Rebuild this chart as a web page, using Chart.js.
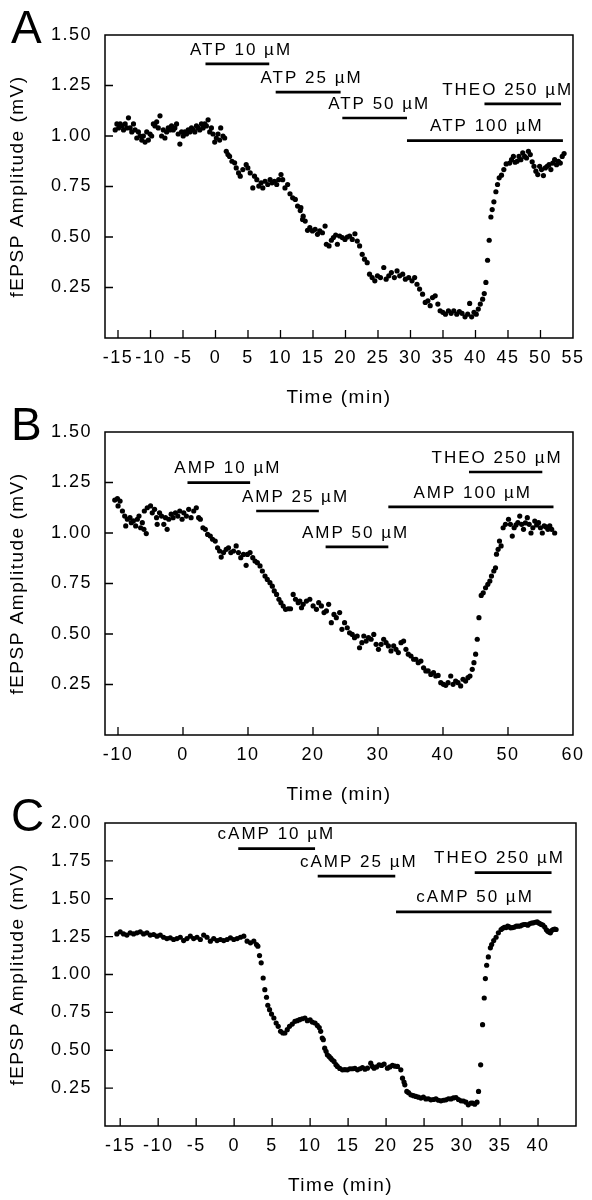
<!DOCTYPE html>
<html>
<head>
<meta charset="utf-8">
<script src="https://cdn.jsdelivr.net/npm/chart.js@4.4.1/dist/chart.umd.min.js"></script>
<style>
  html, body { margin: 0; padding: 0; background: #fff; }
  #wrap { position: relative; width: 592px; height: 1200px; overflow: hidden; background: #fff; }
  canvas { position: absolute; left: 0; }
</style>
</head>
<body>
<div id="wrap">
  <canvas id="cA" width="592" height="410" style="top:2px"></canvas>
  <canvas id="cB" width="592" height="410" style="top:399px"></canvas>
  <canvas id="cC" width="592" height="410" style="top:790px"></canvas>
</div>
<script>
// ---------------- DATA ----------------
// Panel A: [time (min), fEPSP amplitude (mV)]
const seriesA = [
[-15.43,1.03],[-15.17,1.06],[-14.9,1.04],[-14.66,1.06],[-14.41,1.05],[-14.15,1.03],[-13.9,1.06],[-13.64,1.04],[-13.39,1.09],[-13.13,1.04],
[-12.88,1.02],[-12.62,1.06],[-12.37,1.03],[-12.11,0.99],[-11.86,1.02],[-11.6,1.00],[-11.35,0.98],[-11.1,1.00],[-10.84,0.97],[-10.58,1.02],
[-10.33,0.98],[-10.07,1.01],[-9.82,1.00],[-9.56,1.06],[-9.31,1.05],[-9.05,1.07],[-8.8,1.04],[-8.54,1.10],[-8.29,1.00],[-8.03,1.03],
[-7.78,0.99],[-7.52,1.02],[-7.27,1.04],[-7.01,1.03],[-6.76,1.05],[-6.5,1.03],[-6.25,1.04],[-5.99,1.06],[-5.74,1.01],[-5.48,0.96],
[-5.22,1.02],[-4.97,1.00],[-4.71,1.02],[-4.46,1.01],[-4.2,1.03],[-3.95,1.02],[-3.69,1.04],[-3.44,1.03],[-3.18,1.02],[-2.93,1.05],
[-2.67,1.04],[-2.42,1.03],[-2.16,1.06],[-1.91,1.04],[-1.65,1.06],[-1.4,1.05],[-1.14,1.08],[-0.89,1.02],[-0.63,1.04],[-0.38,1.01],
[-0.12,0.97],[0.13,0.99],[0.39,1.01],[0.64,0.98],[0.8,1.04],[1.15,1.00],[1.41,0.99],
[1.66,0.924],[1.92,0.908],[2.17,0.899],[2.53,0.875],[2.94,0.867],[3.19,0.842],[3.55,0.817],[3.81,0.801],[4.21,0.834],[4.72,0.858],
[4.98,0.842],[5.34,0.817],[5.74,0.743],[6.0,0.801],[6.36,0.784],[6.66,0.752],[7.02,0.768],[7.28,0.743],[7.63,0.776],[8.04,0.76],
[8.4,0.784],[8.7,0.768],[9.06,0.776],[9.42,0.76],[9.72,0.784],[10.08,0.809],[10.34,0.784],[10.69,0.743],[11.1,0.76],[11.46,0.714],
[11.87,0.694],[12.28,0.686],[12.63,0.653],[13.04,0.631],[13.14,0.645],[13.4,0.587],[13.49,0.603],[13.8,0.579],[14.16,0.533],[14.51,0.546],
[14.92,0.53],[15.33,0.538],[15.69,0.513],[16.04,0.53],[16.45,0.521],[16.86,0.554],[17.06,0.464],[17.47,0.456],[17.83,0.484],[18.14,0.497],
[18.49,0.51],[18.75,0.464],[19.1,0.505],[19.51,0.497],[19.92,0.488],[20.28,0.5],[20.64,0.505],[21.04,0.488],[21.45,0.516],[21.81,0.48],
[22.17,0.456],[22.57,0.414],[22.93,0.39],[23.34,0.373],[23.7,0.316],[24.1,0.299],[24.51,0.283],[24.92,0.308],[25.38,0.299],[25.89,0.349],
[26.25,0.291],[26.66,0.308],[27.06,0.324],[27.52,0.299],[27.93,0.332],[28.34,0.308],[28.8,0.316],[29.21,0.291],[29.72,0.299],[30.23,0.283],
[30.64,0.299],[31.0,0.266],[31.4,0.242],[31.86,0.217],[32.27,0.176],[32.68,0.184],[33.03,0.16],[33.39,0.2],[33.8,0.209],[34.21,0.168],
[34.56,0.135],[34.97,0.127],[35.38,0.118],[35.84,0.135],[36.25,0.122],[36.66,0.135],[37.12,0.118],[37.52,0.131],[37.93,0.122],[38.39,0.105],
[38.8,0.118],[39.1,0.171],[39.41,0.105],[39.77,0.127],[40.12,0.118],[40.43,0.143],[40.74,0.168],[41.1,0.192],[41.35,0.22],[41.6,0.275],
[41.86,0.385],[42.11,0.484],[42.37,0.599],[42.57,0.636],[42.83,0.674],[43.14,0.724],[43.39,0.76],[43.65,0.793],[44.0,0.806],[44.36,0.834],
[44.72,0.862],[45.25,0.866],[45.54,0.883],[45.83,0.899],[46.1,0.87],[46.4,0.875],[46.69,0.899],[46.98,0.883],[47.27,0.916],[47.56,0.899],
[47.85,0.891],[48.14,0.924],[48.43,0.908],[48.72,0.872],[49.0,0.85],[49.29,0.826],[49.58,0.809],[49.87,0.85],[50.16,0.834],[50.45,0.804],
[50.74,0.842],[51.03,0.85],[51.32,0.858],[51.6,0.834],[51.89,0.866],[52.18,0.883],[52.47,0.858],[52.76,0.875],[53.05,0.866],[53.34,0.899],
[53.63,0.913]
];
const drugsA    = ['ATP 10 µM','ATP 25 µM','ATP 50 µM','ATP 100 µM','THEO 250 µM'];
const barStartA = [-1.54, 9.26, 19.51, 29.46, 41.38];
const barEndA   = [8.27, 19.25, 29.46, 53.45, 53.16];
const barLevelA = [1.357, 1.217, 1.089, 0.977, 1.159];
const labelAtA  = [3.77, 14.63, 25.03, 41.6, 44.8];
const xTicksA   = [-15,-10,-5,0,5,10,15,20,25,30,35,40,45,50,55];
const yTicksA   = [0.25,0.5,0.75,1.0,1.25,1.5];

// Panel B
const seriesB = [
[-10.5,1.163],[-10.09,1.17],[-9.99,1.134],[-9.68,1.158],[-9.32,1.109],[-8.97,1.084],[-8.81,1.035],[-8.56,1.068],[-8.15,1.076],[-7.95,1.051],
[-7.64,1.06],[-7.28,1.035],[-7.03,1.068],[-6.77,1.084],[-6.52,1.026],[-6.26,1.051],[-6.01,1.018],[-5.95,1.109],[-5.65,0.997],[-5.5,1.125],
[-4.99,1.134],[-4.73,1.1],[-4.37,1.117],[-4.07,1.076],[-3.97,1.043],[-3.61,1.1],[-3.3,1.084],[-2.95,1.043],[-2.69,1.076],[-2.44,1.018],
[-2.18,1.068],[-1.82,1.093],[-1.52,1.076],[-1.16,1.1],[-0.8,1.084],[-0.5,1.109],[-0.14,1.068],[0.12,1.1],[0.52,1.084],[0.88,1.117],
[1.24,1.076],[1.65,1.109],[2.05,1.125],[2.41,1.076],[2.67,1.068],[3.07,1.026],[3.43,1.018],[3.79,0.993],[4.2,0.985],[4.55,0.969],
[4.96,0.96],[5.32,0.927],[5.63,0.911],[5.88,0.881],[6.24,0.903],[6.65,0.919],[7.0,0.927],[7.36,0.903],[7.77,0.911],[8.18,0.936],
[8.53,0.903],[8.89,0.878],[9.3,0.894],[9.71,0.84],[9.91,0.894],[10.32,0.903],[10.73,0.878],[11.08,0.861],[11.44,0.853],[11.85,0.837],
[12.21,0.812],[12.62,0.787],[12.97,0.77],[13.38,0.754],[13.74,0.737],[14.04,0.713],[14.4,0.696],[14.76,0.672],[15.06,0.655],[15.42,0.638],
[15.78,0.622],[16.19,0.625],[16.54,0.625],[16.95,0.696],[17.31,0.672],[17.72,0.655],[17.98,0.663],[18.23,0.63],[18.49,0.647],[18.99,0.663],
[19.51,0.672],[20.02,0.639],[20.53,0.622],[20.88,0.655],[21.29,0.639],[21.7,0.606],[22.06,0.614],[22.41,0.647],[22.82,0.556],[23.23,0.597],
[23.59,0.581],[24.1,0.606],[24.45,0.523],[24.86,0.556],[25.27,0.531],[25.63,0.506],[26.04,0.498],[26.39,0.482],[26.8,0.49],[27.16,0.432],
[27.52,0.457],[27.82,0.49],[28.18,0.465],[28.54,0.482],[28.94,0.474],[29.35,0.498],[29.71,0.449],[30.07,0.424],[30.48,0.449],[30.88,0.474],
[31.24,0.457],[31.6,0.441],[32.0,0.416],[32.41,0.441],[32.77,0.424],[33.13,0.408],[33.54,0.457],[33.94,0.465],[34.3,0.424],[34.66,0.4],
[35.07,0.391],[35.48,0.375],[35.83,0.375],[36.19,0.358],[36.6,0.366],[37.01,0.333],[37.36,0.317],[37.72,0.317],[38.13,0.3],[38.54,0.309],
[38.89,0.292],[39.25,0.295],[39.66,0.259],[40.07,0.251],[40.42,0.246],[40.78,0.259],[41.19,0.292],[41.55,0.251],[41.95,0.267],[42.31,0.259],
[42.72,0.243],[43.08,0.276],[43.48,0.267],[43.84,0.284],[44.15,0.292],[44.5,0.325],[44.76,0.358],[45.02,0.4],[45.27,0.474],[45.53,0.581],
[45.88,0.691],[46.19,0.704],[46.55,0.729],[46.9,0.746],[47.21,0.762],[47.46,0.787],[47.82,0.812],[48.08,0.828],[48.23,0.895],[48.48,0.919],
[48.69,0.96],[48.94,0.936],[49.25,1.026],[49.61,1.043],[50.08,1.068],[50.37,1.043],[50.66,0.985],[50.95,1.026],[51.23,1.04],[51.52,1.051],
[51.81,1.084],[52.1,1.043],[52.39,1.018],[52.68,1.05],[52.97,1.076],[53.26,1.043],[53.54,1.0],[53.83,1.026],[54.12,1.059],[54.41,1.04],
[54.7,1.051],[54.99,1.026],[55.28,1.0],[55.57,1.035],[55.86,1.03],[56.14,1.018],[56.43,1.035],[56.72,1.018],[57.18,1.0]
];
const drugsB    = ['AMP 10 µM','AMP 25 µM','AMP 50 µM','AMP 100 µM','THEO 250 µM'];
const barStartB = [0.69, 11.26, 21.94, 31.59, 44.0];
const barEndB   = [10.33, 20.9, 31.59, 57.0, 55.28];
const barLevelB = [1.249, 1.109, 0.931, 1.129, 1.302];
const labelAtB  = [6.75, 17.15, 26.4, 44.42, 48.17];
const xTicksB   = [-10,0,10,20,30,40,50,60];
const yTicksB   = [0.25,0.5,0.75,1.0,1.25,1.5];

// Panel C
const seriesC = [
[-15.44,1.268],[-15.0,1.282],[-14.56,1.268],[-14.12,1.26],[-13.68,1.275],[-13.24,1.268],[-12.8,1.275],[-12.36,1.282],[-11.92,1.268],[-11.48,1.275],
[-11.04,1.26],[-10.6,1.264],[-10.16,1.253],[-9.72,1.26],[-9.29,1.246],[-8.85,1.237],[-8.41,1.242],[-7.97,1.231],[-7.53,1.237],[-7.09,1.246],
[-6.65,1.224],[-6.21,1.237],[-5.77,1.253],[-5.33,1.237],[-4.89,1.246],[-4.45,1.231],[-4.01,1.26],[-3.57,1.246],[-3.13,1.22],[-2.69,1.237],
[-2.25,1.224],[-1.81,1.231],[-1.37,1.224],[-0.93,1.231],[-0.49,1.242],[-0.05,1.231],[0.39,1.237],[0.83,1.246],[1.27,1.253],[1.71,1.22],
[2.15,1.209],[2.59,1.22],[2.94,1.198],[3.12,1.187],[3.34,1.125],[3.56,1.077],[3.82,0.977],[4.04,0.9],[4.26,0.85],[4.43,0.797],
[4.66,0.768],[4.92,0.739],[5.23,0.713],[5.53,0.68],[5.8,0.658],[6.11,0.625],[6.41,0.614],[6.68,0.614],[6.99,0.636],[7.29,0.658],
[7.65,0.673],[8.0,0.691],[8.31,0.695],[8.61,0.702],[8.96,0.708],[9.32,0.713],[9.63,0.695],[10.0,0.7],[10.29,0.686],[10.65,0.68],
[10.95,0.664],[11.2,0.65],[11.39,0.625],[11.6,0.581],[11.74,0.57],[11.92,0.514],[12.1,0.493],[12.27,0.47],[12.5,0.459],[12.71,0.448],
[12.9,0.437],[13.15,0.426],[13.4,0.405],[13.59,0.393],[13.9,0.38],[14.25,0.371],[14.58,0.372],[14.91,0.371],[15.24,0.378],[15.57,0.378],
[15.9,0.38],[16.23,0.371],[16.56,0.378],[16.89,0.386],[17.22,0.375],[17.55,0.382],[17.98,0.415],[18.2,0.393],[18.42,0.382],[18.75,0.39],
[19.08,0.404],[19.41,0.4],[19.74,0.409],[20.18,0.382],[20.5,0.39],[20.84,0.4],[21.17,0.395],[21.5,0.393],[21.94,0.371],[22.16,0.316],
[22.36,0.29],[22.47,0.272],[22.73,0.228],[22.95,0.22],[23.26,0.206],[23.6,0.2],[23.92,0.195],[24.25,0.19],[24.58,0.184],[24.91,0.19],
[25.24,0.179],[25.57,0.18],[25.9,0.173],[26.23,0.175],[26.56,0.179],[26.89,0.17],[27.22,0.166],[27.55,0.17],[27.88,0.173],[28.21,0.18],
[28.54,0.179],[28.87,0.185],[29.2,0.188],[29.53,0.175],[29.86,0.166],[30.19,0.165],[30.52,0.157],[30.82,0.14],[31.17,0.151],[31.4,0.151],
[31.67,0.144],[31.97,0.157],[32.17,0.228],[32.45,0.404],[32.7,0.669],[32.92,0.845],[33.07,0.973],[33.24,1.061],[33.46,1.116],[33.73,1.176],
[33.9,1.198],[34.17,1.224],[34.48,1.246],[34.78,1.275],[35.14,1.297],[35.35,1.305],[35.57,1.312],[35.8,1.31],[36.0,1.319],[36.2,1.315],
[36.4,1.308],[36.65,1.31],[36.9,1.313],[37.15,1.32],[37.4,1.319],[37.65,1.32],[37.9,1.326],[38.15,1.33],[38.39,1.33],[38.65,1.325],
[38.89,1.335],[39.15,1.34],[39.39,1.341],[39.65,1.345],[39.89,1.348],[40.1,1.34],[40.29,1.335],[40.45,1.33],[40.64,1.326],[40.89,1.313],
[41.1,1.295],[41.28,1.286],[41.45,1.28],[41.63,1.275],[41.8,1.29],[41.98,1.297],[42.2,1.3],[42.38,1.297]
];
const drugsC    = ['cAMP 10 µM','cAMP 25 µM','cAMP 50 µM','THEO 250 µM'];
const barStartC = [0.54, 11.0, 21.31, 31.67];
const barEndC   = [10.65, 21.21, 41.78, 41.78];
const barLevelC = [1.831, 1.65, 1.414, 1.672];
const labelAtC  = [5.43, 16.28, 31.57, 34.8];
const xTicksC   = [-15,-10,-5,0,5,10,15,20,25,30,35,40];
const yTicksC   = [0.25,0.5,0.75,1.0,1.25,1.5,1.75,2.0];

// ---------------- RENDERING ----------------
const FAMILY = "'Liberation Sans', Arial, Helvetica, sans-serif";

const framePlugin = {
  id: 'frame',
  beforeDraw(chart) {
    chart.ctx.letterSpacing = '1.5px';
  },
  afterDraw(chart, args, opts) {
    const ctx = chart.ctx;
    const a = chart.chartArea;
    const xs = chart.scales.x, ys = chart.scales.y;
    ctx.save();
    ctx.strokeStyle = '#000';
    ctx.lineWidth = 1.5;
    ctx.strokeRect(a.left, a.top, a.right - a.left, a.bottom - a.top);
    ctx.lineWidth = 1.3;
    ctx.beginPath();
    xs.ticks.forEach(t => {
      const p = xs.getPixelForValue(t.value);
      if (p > a.left + 2 && p < a.right - 2) { ctx.moveTo(p, a.bottom); ctx.lineTo(p, a.bottom - 8); }
    });
    ys.ticks.forEach(t => {
      const p = ys.getPixelForValue(t.value);
      if (p > a.top + 2 && p < a.bottom - 2) { ctx.moveTo(a.left, p); ctx.lineTo(a.left + 8, p); }
    });
    ctx.stroke();

    // drug labels
    ctx.fillStyle = '#000';
    ctx.font = '17px ' + FAMILY;
    ctx.letterSpacing = '2px';
    ctx.textAlign = 'center';
    ctx.textBaseline = 'middle';
    opts.labels.forEach((txt, i) => {
      const px = xs.getPixelForValue(opts.labelAt[i]);
      const py = ys.getPixelForValue(opts.levels[i]) - 14;
      ctx.fillText(txt, px + 1, py);
    });

    // panel letter
    ctx.letterSpacing = '0px';
    ctx.font = '46px ' + FAMILY;
    ctx.textAlign = 'left';
    ctx.textBaseline = 'alphabetic';
    ctx.fillText(opts.letter, 11, 41);
    ctx.restore();
  }
};

function makePanel(id, letter, series, drugs, starts, ends, levels, labelAt, xTicks, yTicks, xMin, xMax, yMax) {
  const datasets = [{
    data: series.map(p => ({x: p[0], y: p[1]})),
    backgroundColor: '#000',
    borderColor: '#000',
    borderWidth: 0,
    pointRadius: 2.6,
    showLine: false
  }];
  drugs.forEach((d, i) => {
    datasets.push({
      data: [{x: starts[i], y: levels[i]}, {x: ends[i], y: levels[i]}],
      borderColor: '#000',
      borderWidth: 2.7,
      pointRadius: 0,
      showLine: true,
      fill: false
    });
  });
  new Chart(document.getElementById(id), {
    type: 'scatter',
    data: { datasets },
    options: {
      responsive: false,
      animation: false,
      devicePixelRatio: 1,
      layout: { padding: { top: 33, right: 16, left: 0, bottom: 0 } },
      plugins: {
        legend: { display: false },
        tooltip: { enabled: false },
        frame: { letter, labels: drugs, labelAt, levels }
      },
      scales: {
        x: {
          type: 'linear', min: xMin, max: xMax,
          afterBuildTicks: s => { s.ticks = xTicks.map(v => ({value: v})); },
          afterFit: s => { s.height = 74; },
          grid: { display: false, drawTicks: false },
          border: { display: false },
          ticks: { color: '#000', font: { family: FAMILY, size: 18 }, padding: 9, maxRotation: 0, autoSkip: false,
                   callback: v => String(v) },
          title: { display: true, text: 'Time (min)', color: '#000', font: { family: FAMILY, size: 19 }, padding: { top: 0, bottom: 3 } }
        },
        y: {
          type: 'linear', min: 0, max: yMax,
          afterBuildTicks: s => { s.ticks = yTicks.map(v => ({value: v})); },
          afterFit: s => { s.width = 105; },
          grid: { display: false, drawTicks: false },
          border: { display: false },
          ticks: { color: '#000', font: { family: FAMILY, size: 18 }, padding: 13,
                   callback: v => Number(v).toFixed(2) },
          title: { display: true, text: 'fEPSP Amplitude (mV)', color: '#000', font: { family: FAMILY, size: 19 }, padding: { top: 6, bottom: 0 } }
        }
      }
    },
    plugins: [framePlugin]
  });
}

makePanel('cA', 'A', seriesA, drugsA, barStartA, barEndA, barLevelA, labelAtA, xTicksA, yTicksA, -17, 55, 1.5);
makePanel('cB', 'B', seriesB, drugsB, barStartB, barEndB, barLevelB, labelAtB, xTicksB, yTicksB, -12, 60, 1.5);
makePanel('cC', 'C', seriesC, drugsC, barStartC, barEndC, barLevelC, labelAtC, xTicksC, yTicksC, -17, 45, 2.0);
</script>
</body>
</html>
